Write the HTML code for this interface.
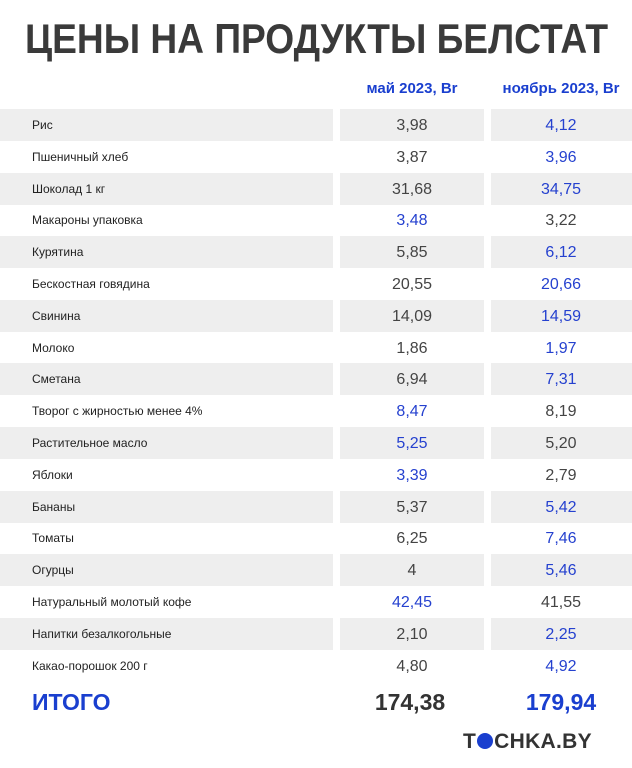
<!DOCTYPE html>
<html><head><meta charset="utf-8">
<style>
body{margin:0;width:632px;height:768px;background:#fff;position:relative;overflow:hidden;font-family:"Liberation Sans",sans-serif}
.a{position:absolute}
.bg{position:absolute;background:#eeeeee;height:32px}
.lbl{position:absolute;left:32px;font-size:12px;color:#222;line-height:32px}
.val{position:absolute;font-size:16px;line-height:32px;text-align:center;width:150px}
.hd{position:absolute;top:80px;font-size:15px;font-weight:bold;color:#1a3fcf;text-align:center;width:160px}
</style></head><body>
<svg class="a" style="left:0;top:0" width="632" height="70">
<text x="25" y="53" textLength="583" lengthAdjust="spacingAndGlyphs" font-family="Liberation Sans" font-weight="bold" font-size="42" fill="#3a3a3a">ЦЕНЫ НА ПРОДУКТЫ БЕЛСТАТ</text></svg>
<div class="hd" style="left:332px">май 2023, Вr</div>
<div class="hd" style="left:481px">ноябрь 2023, Вr</div>
<div id="tbl"></div>
<div class="a" style="left:32px;top:689px;font-size:23px;font-weight:bold;color:#1a3fcf">ИТОГО</div>
<div class="a" style="left:335px;width:150px;text-align:center;top:689px;font-size:23px;font-weight:bold;color:#333">174,38</div>
<div class="a" style="left:486px;width:150px;text-align:center;top:689px;font-size:23px;font-weight:bold;color:#1a3fcf">179,94</div>
<div class="a" style="left:463px;top:730px;font-size:21px;font-weight:bold;color:#333;letter-spacing:0.3px">T<span style="display:inline-block;width:16px;height:16px;border-radius:50%;background:#1a3fcf;vertical-align:-1px;margin:0 1px"></span>CHKA.BY</div>
<script>
const labels=["Рис","Пшеничный хлеб","Шоколад 1 кг","Макароны упаковка","Курятина","Бескостная говядина","Свинина","Молоко","Сметана","Творог с жирностью менее 4%","Растительное масло","Яблоки","Бананы","Томаты","Огурцы","Натуральный молотый кофе","Напитки безалкогольные","Какао-порошок 200 г"];
const may=["3,98","3,87","31,68","3,48","5,85","20,55","14,09","1,86","6,94","8,47","5,25","3,39","5,37","6,25","4","42,45","2,10","4,80"];
const nov=["4,12","3,96","34,75","3,22","6,12","20,66","14,59","1,97","7,31","8,19","5,20","2,79","5,42","7,46","5,46","41,55","2,25","4,92"];
const t=document.getElementById('tbl');
const num=s=>parseFloat(s.replace(',','.'));
labels.forEach((l,i)=>{
 const y=109+i*31.8;
 if(i%2===0){
  [[0,333],[340,144],[491,141]].forEach(([x,w])=>{
   const b=document.createElement('div');b.className='bg';
   
   
   b.style.left=x+'px';b.style.width=w+'px';b.style.top=y+'px';t.appendChild(b);});
 }
 const d=document.createElement('div');d.className='lbl';d.textContent=l;d.style.top=y+'px';
 
 
 t.appendChild(d);
 const m=num(may[i]),n=num(nov[i]);
 [[may[i],337,m>n],[nov[i],486,n>m]].forEach(([v,x,hi])=>{
  const e=document.createElement('div');e.className='val';e.textContent=v;
  
  
  e.style.left=x+'px';e.style.top=(y+1)+'px';e.style.color=hi?'#2541cf':'#444';t.appendChild(e);});
});
</script>
</body></html>
